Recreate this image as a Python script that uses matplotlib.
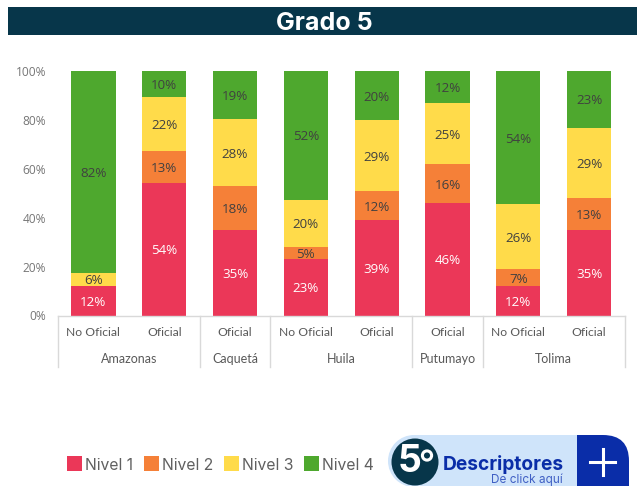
import matplotlib
matplotlib.use('Agg')
import matplotlib.pyplot as plt
from matplotlib.patches import Rectangle, Circle, PathPatch
from matplotlib.path import Path

sectors = ['No Oficial', 'Oficial', 'Oficial', 'No Oficial', 'Oficial', 'Oficial', 'No Oficial', 'Oficial']
departments = ['Amazonas', 'Caquetá', 'Huila', 'Putumayo', 'Tolima']
dept_bar_counts = [2, 1, 2, 1, 2]
nivel_1 = [12, 54.5, 35, 23, 39, 46, 12, 35]
nivel_2 = [0, 13, 18, 5, 12, 16, 7, 13]
nivel_3 = [5.5, 22, 27.5, 19.5, 29, 25, 26.5, 29]
nivel_4 = [82.5, 10.5, 19.5, 52.5, 20, 13, 54.5, 23]
labels_1 = ['12%', '54%', '35%', '23%', '39%', '46%', '12%', '35%']
labels_2 = ['', '13%', '18%', '5%', '12%', '16%', '7%', '13%']
labels_3 = ['6%', '22%', '28%', '20%', '29%', '25%', '26%', '29%']
labels_4 = ['82%', '10%', '19%', '52%', '20%', '12%', '54%', '23%']
series_names = ['Nivel 1', 'Nivel 2', 'Nivel 3', 'Nivel 4']
colors = ['#EB3758', '#F58038', '#FFDB4A', '#4EA82E']
y_ticks = [0, 20, 40, 60, 80, 100]

W, H = 637, 486
fig = plt.figure(figsize=(W/100, H/100), dpi=100)

ov = fig.add_axes([0, 0, 1, 1])
ov.set_xlim(0, W); ov.set_ylim(H, 0); ov.axis('off')

ax = fig.add_axes([58/W, 1-315.5/H, 566.5/W, 244/H])
ax.set_xlim(-0.5, len(sectors)-0.5)
ax.set_ylim(0, 100)
ax.patch.set_alpha(0)
for s in ['top', 'right', 'left']:
    ax.spines[s].set_visible(False)
ax.spines['bottom'].set_color('#D9D9D9')
ax.spines['bottom'].set_linewidth(1)

xs = list(range(len(sectors)))
bottom = [0]*len(xs)
series = [nivel_1, nivel_2, nivel_3, nivel_4]
texts = [labels_1, labels_2, labels_3, labels_4]
txtcol = ['white', '#404040', '#404040', '#404040']
for vals, lab, c, tc, name in zip(series, texts, colors, txtcol, series_names):
    ax.bar(xs, vals, 0.625, bottom=bottom, color=c, label=name, edgecolor='none', zorder=2)
    for x, v, b, t in zip(xs, vals, bottom, lab):
        if t:
            ax.annotate(t, (x, b+v/2), xytext=(0, -1), textcoords='offset points',
                        ha='center', va='center', color=tc, fontsize=9.6,
                        family='Open Sans', zorder=3)
    bottom = [b+v for b, v in zip(bottom, vals)]

ax.set_yticks(y_ticks)
ax.set_yticklabels([f'{t}%' for t in y_ticks], fontsize=8.6, color='#767676', family='Open Sans')
ax.tick_params(axis='y', length=0, pad=8.5)
ax.set_xticks(xs)
ax.set_xticklabels(sectors, fontsize=8.7, color='#595959', family='Lato')
ax.tick_params(axis='x', length=0, pad=8.5)

pos = -0.5
trans = ax.get_xaxis_transform()
ax.plot([pos, pos], [0, -0.213], transform=trans, color='#D9D9D9', lw=1, clip_on=False)
for d, n in zip(departments, dept_bar_counts):
    ax.plot([pos+n, pos+n], [0, -0.213], transform=trans, color='#D9D9D9', lw=1, clip_on=False)
    ax.text(pos+n/2, -0.178, d, transform=trans, ha='center', va='center',
            fontsize=9, color='#595959', family='Lato')
    pos += n

ov.add_patch(Rectangle((8, 7), 629, 28, fc='#07364A', ec='none'))
ov.text(324, 24, 'Grado 5', ha='center', va='center', color='white', fontsize=18,
        fontweight='bold', family='Inter')

lx = [67, 144, 224, 304]
for x, c, n in zip(lx, colors, series_names):
    ov.add_patch(Rectangle((x, 456), 15, 15, fc=c, ec='none'))
    ov.text(x+18, 465, n, ha='left', va='center', fontsize=11.3, color='#606060', family='Inter')

# button
ov.add_patch(Rectangle((412, 435), 166, 51, fc='#CFE4FA', ec='none'))
ov.add_patch(Circle((414, 461), 26, fc='#CFE4FA', ec='none'))
ov.add_patch(Circle((415, 462), 23.5, fc='#07364A', ec='none'))
ov.text(409.5, 461.5, '5', ha='center', va='center', color='white', fontsize=27, fontweight='bold', family='Inter')
ov.add_patch(Circle((427, 455.5), 4.6, fc='none', ec='white', lw=2.2))
ov.text(443, 464.5, 'Descriptores', ha='left', va='center', color='#0A2DA8', fontsize=13.8, fontweight='bold', family='Inter')
ov.text(563, 480, 'De click aquí', ha='right', va='center', color='#3F5FC4', fontsize=8.5, family='Inter')
ov.add_patch(PathPatch(Path([(577, 435), (603, 435), (629, 435), (629, 461), (629, 486), (577, 486), (577, 435)],
                            [1, 2, 3, 3, 2, 2, 79]), fc='#0A2DA8', ec='none'))
ov.plot([590, 615], [461.5, 461.5], color='white', lw=2.2)
ov.plot([602.5, 602.5], [449, 474.5], color='white', lw=2.2)

fig.savefig('out.png', dpi=100, facecolor='white')
